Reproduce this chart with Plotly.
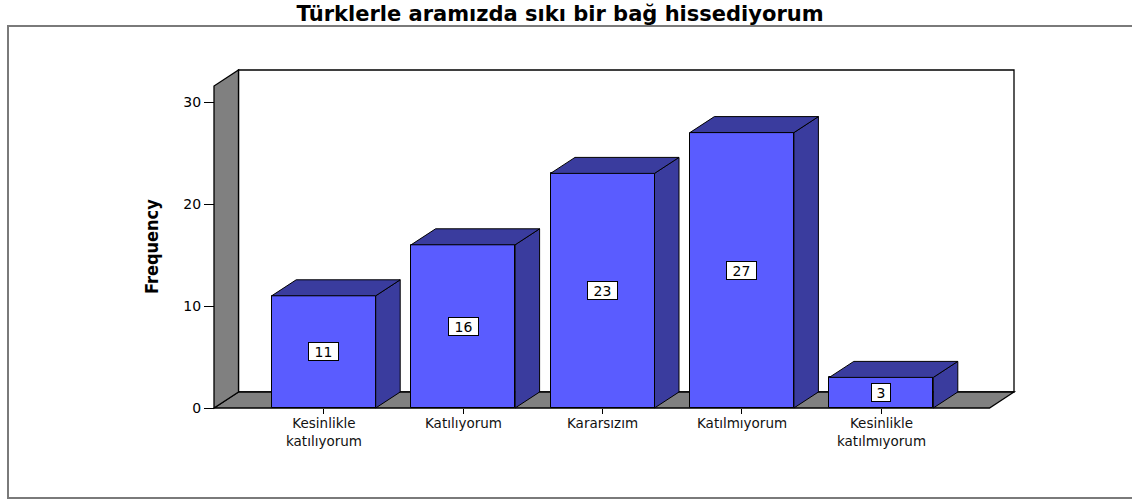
import plotly.graph_objects as go

# ---- data -------------------------------------------------------------
title_text = "Türklerle aramızda sıkı bir bağ hissediyorum"
tick_labels = [
    "Kesinlikle<br>katılıyorum",
    "Katılıyorum",
    "Kararsızım",
    "Katılmıyorum",
    "Kesinlikle<br>katılmıyorum",
]
frequency = [11, 16, 23, 27, 3]
y_tick_values = [0, 10, 20, 30]
y_axis_title = "Frequency"

# ---- styling ----------------------------------------------------------
FRONT = "#5A5CFF"
SHADE = "#3A3C9E"
WALL = "#808080"
FONT = "DejaVu Sans"
NARROW = "Liberation Sans Narrow, DejaVu Sans Condensed, Roboto Condensed, Roboto, sans-serif"

W, H = 1132, 500
px_per_cat = 139.4          # horizontal scale: pixels per category
px_per_unit = 10.2          # vertical scale: pixels per count
depth_x_px, depth_y_px = 24.5, 16.0
bar_width = 104 / px_per_cat
dx = depth_x_px / px_per_cat
dy = depth_y_px / px_per_unit

# the 3-D box (walls + floor) in pixels
box_left_px, box_right_px = 214, 1014
box_top_px, box_bottom_px = 70, 408
first_center_px = 323.7
pad = 3  # keeps outline strokes on the box edge from being clipped

x_lo = (box_left_px - first_center_px) / px_per_cat
x_hi = (box_right_px - first_center_px) / px_per_cat
y_lo = 0.0
y_hi = (box_bottom_px - box_top_px) / px_per_unit

plot_l, plot_r = box_left_px - pad, box_right_px + pad
plot_t, plot_b = box_top_px - pad, box_bottom_px + pad
plot_w, plot_h = plot_r - plot_l, plot_b - plot_t

xs = list(range(len(frequency)))

fig = go.Figure()

# front faces of the bars
fig.add_trace(go.Bar(
    x=xs, y=frequency, width=bar_width,
    marker=dict(color=FRONT, line=dict(color="black", width=1)),
    hoverinfo="skip", showlegend=False,
))

# right-hand side faces and top faces of each bar
side_x, side_y, top_x, top_y = [], [], [], []
for x, v in zip(xs, frequency):
    l, r = x - bar_width / 2, x + bar_width / 2
    side_x += [r, r + dx, r + dx, r, r, None]
    side_y += [0, dy, v + dy, v, 0, None]
    top_x += [l, l + dx, r + dx, r, l, None]
    top_y += [v, v + dy, v + dy, v, v, None]

for px_, py_ in ((side_x, side_y), (top_x, top_y)):
    fig.add_trace(go.Scatter(
        x=px_, y=py_, mode="lines", fill="toself", fillcolor=SHADE,
        line=dict(color="black", width=1), hoverinfo="skip", showlegend=False,
    ))

# walls and floor of the box
shapes = [
    dict(type="rect", xref="x", yref="y", x0=x_lo + dx, x1=x_hi, y0=dy, y1=y_hi,
         fillcolor="white", line=dict(color="black", width=1.3), layer="below"),
    dict(type="path", xref="x", yref="y",
         path=f"M {x_lo},{y_lo} L {x_hi - dx},{y_lo} L {x_hi},{dy} L {x_lo + dx},{dy} Z",
         fillcolor=WALL, line=dict(color="black", width=1.3), layer="below"),
    dict(type="path", xref="x", yref="y",
         path=f"M {x_lo},{y_lo} L {x_lo},{y_hi - dy} L {x_lo + dx},{y_hi} L {x_lo + dx},{dy} Z",
         fillcolor=WALL, line=dict(color="black", width=1.3), layer="below"),
]

# outer chart frame (open on the right)
def px_to_paper_x(p):
    return (p - plot_l) / plot_w

def px_to_paper_y(p):
    return (plot_b - p) / plot_h

shapes.append(dict(
    type="path", xref="paper", yref="paper",
    path=(f"M {px_to_paper_x(W + 5)},{px_to_paper_y(26)} "
          f"L {px_to_paper_x(8)},{px_to_paper_y(26)} "
          f"L {px_to_paper_x(8)},{px_to_paper_y(498)} "
          f"L {px_to_paper_x(W + 5)},{px_to_paper_y(498)}"),
    line=dict(color="#7a7a7a", width=2),
))

annotations = []
# value boxes in the middle of each bar
for x, v in zip(xs, frequency):
    txt = str(v)
    annotations.append(dict(
        x=x, y=v / 2, xref="x", yref="y", text=txt, showarrow=False,
        font=dict(family=FONT, size=14, color="black"),
        bgcolor="white", bordercolor="black", borderwidth=1, borderpad=1,
        width=5 + 11 * len(txt), height=15,
        xanchor="center", yanchor="middle",
    ))

# category labels under the ticks
for x, lab in zip(xs, tick_labels):
    annotations.append(dict(
        x=x, y=0, xref="x", yref="y", text=lab, showarrow=False,
        font=dict(family=FONT, size=13.5, color="#111"),
        xanchor="center", yanchor="top", yshift=-5,
    ))

# y-axis title
annotations.append(dict(
    x=0, y=px_to_paper_y(247), xref="paper", yref="paper",
    xshift=151 - plot_l, text=f"<b>{y_axis_title}</b>", textangle=-90,
    showarrow=False, xanchor="center", yanchor="middle",
    font=dict(family=NARROW, size=18, color="black"),
))

fig.update_layout(
    width=W, height=H,
    margin=dict(l=plot_l, r=W - plot_r, t=plot_t, b=H - plot_b, pad=0),
    paper_bgcolor="white", plot_bgcolor="white",
    title=dict(
        text=f"<b>{title_text}</b>", x=560 / W, xanchor="center",
        y=1 - 14 / H, yanchor="middle", yref="container",
        font=dict(family=FONT, size=21, color="black"),
    ),
    xaxis=dict(
        range=[x_lo - pad / px_per_cat, x_hi + pad / px_per_cat],
        anchor="free", position=pad / plot_h,
        tickvals=xs, ticks="outside", ticklen=5, tickwidth=1, tickcolor="black",
        showticklabels=False, showgrid=False, zeroline=False, showline=False,
        fixedrange=True,
    ),
    yaxis=dict(
        range=[y_lo - pad / px_per_unit, y_hi + pad / px_per_unit],
        anchor="free", position=pad / plot_w,
        tickvals=y_tick_values, ticks="outside", ticklen=10, tickwidth=1,
        tickcolor="black", tickfont=dict(family=FONT, size=14, color="black"),
        showgrid=False, zeroline=False, showline=False, fixedrange=True,
    ),
    shapes=shapes,
    annotations=annotations,
    bargap=0,
)

fig.write_html("out.html")
